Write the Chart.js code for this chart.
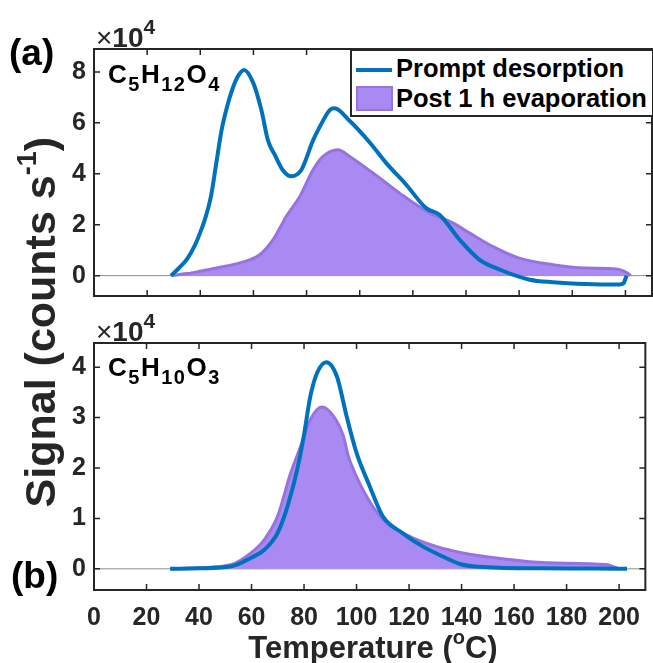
<!DOCTYPE html>
<html>
<head>
<meta charset="utf-8">
<script src="https://cdn.jsdelivr.net/npm/chart.js@4.4.1/dist/chart.umd.min.js"></script>
<style>
  body { margin:0; width:653px; height:663px; position:relative; background:#fff; overflow:hidden; font-family:"Liberation Sans", Arial, sans-serif; }
  canvas { position:absolute; left:0; }
  .t { position:absolute; line-height:1; white-space:nowrap; font-weight:bold; }
  .lab { color:#000; font-size:37px; }
  .mult { color:#262626; font-size:28px; }
  .formula { color:#000; font-size:26px; letter-spacing:1.5px; }
  .formula span { font-size:20px; position:relative; top:8px; }
  #legend { position:absolute; left:350px; top:49px; width:300px; height:64px; border:2px solid #262626; border-right-width:0; background:#fff; }
  .leg { position:absolute; left:44px; font-size:25.5px; color:#000; line-height:1; font-weight:bold; white-space:nowrap; }
</style>
</head>
<body>
<canvas id="topChart" width="653" height="320" style="top:0"></canvas>
<canvas id="botChart" width="653" height="343" style="top:320px"></canvas>

<div class="t lab" style="left:9px; top:34px;">(a)</div>
<div class="t lab" style="left:11px; top:557px;">(b)</div>
<div class="t mult" style="left:96px; top:19px;"><span style="font-weight:normal">×</span>10<sup style="font-size:21px; position:relative; top:-3px;">4</sup></div>
<div class="t mult" style="left:96px; top:313px;"><span style="font-weight:normal">×</span>10<sup style="font-size:21px; position:relative; top:-3px;">4</sup></div>
<div class="t formula" style="left:108px; top:61px;">C<span>5</span>H<span>12</span>O<span>4</span></div>
<div class="t formula" style="left:108px; top:354px;">C<span>5</span>H<span>10</span>O<span>3</span></div>

<div id="legend">
  <div style="position:absolute; left:4px; top:17px; width:36px; height:4px; background:rgb(0,114,189);"></div>
  <div style="position:absolute; left:4px; top:35px; width:33px; height:21px; background:rgb(168,138,242); border:2px solid rgb(150,115,225);"></div>
  <div class="leg" style="top:5px;">Prompt desorption</div>
  <div class="leg" style="top:35px;">Post 1 h evaporation</div>
</div>

<div class="t" style="left:-210px; top:300px; width:500px; text-align:center; font-size:43px; color:#262626; transform:rotate(-90deg);">Signal (counts s<sup style="font-size:27px; position:relative; top:-4px;">-1</sup>)</div>
<div class="t" style="left:123px; top:630px; width:500px; text-align:center; font-size:31px; color:#262626;">Temperature (<sup style="font-size:20px; position:relative; top:-3px;">o</sup>C)</div>

<script>
// x ticks (temperature, degC) and y ticks (x10^4 counts/s)
const xTicks = [0, 20, 40, 60, 80, 100, 120, 140, 160, 180, 200];
const yTicksTop = [0, 2, 4, 6, 8];
const yTicksBot = [0, 1, 2, 3, 4];

// (a) C5H12O4
const promptTempA = [29, 32, 35, 38, 40, 42, 44, 46, 48, 50, 52, 54, 56.5, 60, 63, 65.5, 68, 71, 74.3, 78, 82.4, 85, 88.7, 90.5, 96, 104, 110, 117.5, 125, 130, 137.6, 145, 152.6, 164, 172.7, 185, 197.7, 199.3, 200, 200.5];
const promptSigA  = [0, 0.3, 0.65, 1.2, 1.7, 2.3, 3.1, 4.4, 5.7, 6.6, 7.3, 7.8, 8.08, 7.55, 6.5, 5.3, 4.75, 4.15, 3.9, 4.15, 5.3, 5.85, 6.5, 6.57, 6.1, 5.2, 4.42, 3.57, 2.65, 2.39, 1.41, 0.63, 0.24, -0.16, -0.26, -0.33, -0.35, -0.3, -0.12, 0];
const postTempA = [29, 35, 39.8, 47, 54.9, 62.4, 67.4, 72.4, 77.4, 82.4, 86.2, 91.8, 96.2, 105, 115, 126.3, 135, 141.4, 150, 160, 172.7, 185, 196.5, 200, 202];
const postSigA  = [0, 0.08, 0.17, 0.32, 0.5, 0.82, 1.41, 2.33, 3.1, 4.15, 4.68, 4.94, 4.68, 4.03, 3.24, 2.46, 2.07, 1.67, 1.15, 0.69, 0.43, 0.3, 0.26, 0.15, 0];

// (b) C5H10O3
const promptTempB = [29, 40, 52.4, 59.9, 64.9, 69.9, 73.7, 77.4, 79.9, 82.4, 85, 88.5, 92.5, 96.2, 100, 105, 110, 117.5, 125, 132.6, 140, 147, 154, 170, 190, 203];
const promptSigB  = [0, 0.01, 0.05, 0.22, 0.38, 0.71, 1.24, 1.97, 2.63, 3.42, 3.89, 4.1, 3.82, 3.03, 2.3, 1.64, 1.04, 0.71, 0.45, 0.25, 0.085, 0.04, 0.02, 0.01, 0.005, 0];
const postTempB = [29, 40, 52.4, 59.9, 64.9, 69.9, 74.9, 78.7, 82.4, 86.8, 91.2, 95, 96.9, 98.8, 103.8, 110, 120, 130, 140, 152.6, 172.7, 195, 200];
const postSigB  = [0, 0.02, 0.085, 0.32, 0.58, 1.04, 1.9, 2.43, 2.96, 3.21, 3.03, 2.63, 2.23, 1.97, 1.44, 0.98, 0.65, 0.45, 0.32, 0.22, 0.12, 0.085, 0];

const blue = 'rgb(0,114,189)'
const purpleFill = 'rgb(168,138,242)'
const purpleEdge = 'rgb(150,115,225)'
const axisColor = '#262626'
const tickFont = { family: 'Liberation Sans', size: 25, weight: 'bold' }

function pts(xs, ys){
  return xs.map((x, i) => ({x: x, y: ys[i]}))
}

// matlab style box, inward ticks and zero line
const boxPlugin = {
  id: 'box',
  beforeDatasetsDraw(chart){
    const ctx = chart.ctx
    const a = chart.chartArea
    const y0 = chart.scales.y.getPixelForValue(0)
    ctx.save()
    ctx.strokeStyle = '#8c8c8c'
    ctx.lineWidth = 1
    ctx.beginPath()
    ctx.moveTo(a.left, y0)
    ctx.lineTo(a.right, y0)
    ctx.stroke()
    ctx.restore()
  },
  afterDatasetsDraw(chart){
    const ctx = chart.ctx
    const a = chart.chartArea
    const xs = chart.scales.x, ys = chart.scales.y
    const tl = 6
    ctx.save()
    ctx.strokeStyle = axisColor
    ctx.lineWidth = 1.5
    ctx.beginPath()
    xs.ticks.forEach(t => {
      const p = xs.getPixelForValue(t.value)
      ctx.moveTo(p, a.bottom); ctx.lineTo(p, a.bottom - tl)
      ctx.moveTo(p, a.top); ctx.lineTo(p, a.top + tl)
    })
    ys.ticks.forEach(t => {
      const p = ys.getPixelForValue(t.value)
      ctx.moveTo(a.left, p); ctx.lineTo(a.left + tl, p)
      ctx.moveTo(a.right, p); ctx.lineTo(a.right - tl, p)
    })
    ctx.stroke()
    ctx.lineWidth = 2
    ctx.strokeRect(a.left, a.top, a.right - a.left, a.bottom - a.top)
    ctx.restore()
  }
}

function makeChart(id, pX, pY, qX, qY, yMin, yMax, yTicks, showX, pad){
  const ctx = document.getElementById(id).getContext('2d')
  return new Chart(ctx, {
    type: 'line',
    data: {
      datasets: [{
        label: 'Prompt desorption',
        data: pts(pX, pY),
        borderColor: blue,
        borderWidth: 4,
        pointRadius: 0,
        fill: false,
        cubicInterpolationMode: 'monotone'
      }, {
        label: 'Post 1 h evaporation',
        data: pts(qX, qY),
        borderColor: purpleEdge,
        backgroundColor: purpleFill,
        borderWidth: 3,
        pointRadius: 0,
        fill: 'origin',
        cubicInterpolationMode: 'monotone'
      }]
    },
    options: {
      responsive: false,
      animation: false,
      layout: { padding: pad },
      plugins: { legend: { display: false }, tooltip: { enabled: false } },
      scales: {
        x: {
          type: 'linear',
          min: 0, max: 210,
          grid: { display: false, drawTicks: false },
          border: { display: false },
          ticks: { display: showX, color: axisColor, padding: 13, font: tickFont },
          afterBuildTicks: s => { s.ticks = xTicks.map(v => ({value: v})) },
          afterFit: s => { s.height = showX ? 73 : 0 }
        },
        y: {
          type: 'linear',
          min: yMin, max: yMax,
          grid: { display: false, drawTicks: false },
          border: { display: false },
          ticks: { color: axisColor, padding: 8, font: tickFont },
          afterBuildTicks: s => { s.ticks = yTicks.map(v => ({value: v})) },
          afterFit: s => { s.width = 94 }
        }
      }
    },
    plugins: [boxPlugin]
  })
}

makeChart('topChart', promptTempA, promptSigA, postTempA, postSigA, -0.8, 8.9, yTicksTop, false, {left: 0, right: 1, top: 49, bottom: 24})
makeChart('botChart', promptTempB, promptSigB, postTempB, postSigB, -0.42, 4.48, yTicksBot, true, {left: 0, right: 1, top: 23, bottom: 0})
</script>
</body>
</html>
